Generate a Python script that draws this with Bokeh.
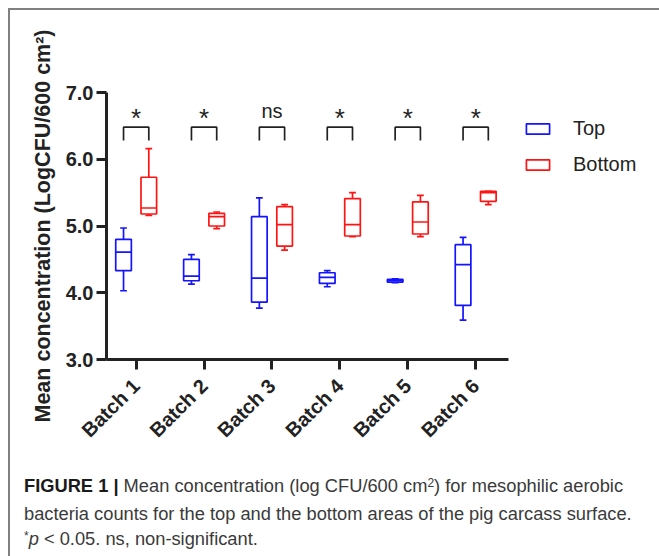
import numpy as np
from bokeh.plotting import figure
from bokeh.models import Range1d, FixedTicker, Legend, LegendItem, ColumnDataSource, Div
from bokeh.layouts import column
from bokeh.core.properties import value
from bokeh.embed import file_html
from bokeh.resources import INLINE

# ---- data ----
batches = ["Batch 1", "Batch 2", "Batch 3", "Batch 4", "Batch 5", "Batch 6"]
positions = [1, 2, 3, 4, 5, 6]

top_low = [4.03, 4.13, 3.77, 4.09, 4.15, 3.59]
top_q1 = [4.33, 4.18, 3.86, 4.14, 4.16, 3.81]
top_med = [4.61, 4.25, 4.22, 4.23, 4.18, 4.42]
top_q3 = [4.80, 4.50, 5.14, 4.30, 4.20, 4.72]
top_high = [4.97, 4.57, 5.42, 4.33, 4.21, 4.83]

bot_low = [5.16, 4.96, 4.64, 4.84, 4.84, 5.32]
bot_q1 = [5.18, 5.00, 4.70, 4.85, 4.88, 5.37]
bot_med = [5.27, 5.14, 5.02, 5.02, 5.06, 5.50]
bot_q3 = [5.73, 5.19, 5.29, 5.41, 5.36, 5.52]
bot_high = [6.16, 5.21, 5.32, 5.50, 5.46, 5.52]

significance = ["*", "*", "ns", "*", "*", "*"]

y_ticks = [3, 4, 5, 6, 7]
y_tick_labels = ["3.0", "4.0", "5.0", "6.0", "7.0"]

# ---- styling constants ----
OFFSET = 0.186
BOX_W = 0.23
CAP_W = 0.10
BR_LOW, BR_HIGH = 6.28, 6.48
AX = "#222222"
FONT = "Liberation Sans"
X_AXIS_BOUNDS = (0.563, 6.483)

# frame extends to the right so the legend can sit beside the axis
p = figure(frame_width=553, frame_height=267,
           x_range=Range1d(0.563, 8.707), y_range=Range1d(3.0, 7.0),
           output_backend="svg", toolbar_location=None,
           min_border_left=96, min_border_right=0,
           min_border_top=82, min_border_bottom=109)
p.grid.visible = False
p.outline_line_color = None
p.background_fill_color = "white"
p.border_fill_color = "white"


def draw_boxes(shift, low, q1, med, q3, high, color):
    xs = np.array(positions, dtype=float) + shift
    src = ColumnDataSource(dict(x=xs, low=low, q1=q1, med=med, q3=q3, high=high,
                                xl=xs - BOX_W / 2, xr=xs + BOX_W / 2,
                                cl=xs - CAP_W / 2, cr=xs + CAP_W / 2))
    lw = 1.7
    p.segment(x0="x", y0="q3", x1="x", y1="high", source=src, line_color=color, line_width=lw)
    p.segment(x0="x", y0="q1", x1="x", y1="low", source=src, line_color=color, line_width=lw)
    p.segment(x0="cl", y0="high", x1="cr", y1="high", source=src, line_color=color, line_width=lw)
    p.segment(x0="cl", y0="low", x1="cr", y1="low", source=src, line_color=color, line_width=lw)
    r = p.vbar(x="x", bottom="q1", top="q3", width=BOX_W, source=src,
               fill_color="white", line_color=color, line_width=lw)
    p.segment(x0="xl", y0="med", x1="xr", y1="med", source=src, line_color=color, line_width=lw)
    return r


r_top = draw_boxes(-OFFSET, top_low, top_q1, top_med, top_q3, top_high, "#1414ff")
r_bot = draw_boxes(OFFSET, bot_low, bot_q1, bot_med, bot_q3, bot_high, "#ff1414")

# significance brackets
bxs = [[x - OFFSET, x - OFFSET, x + OFFSET, x + OFFSET] for x in positions]
bys = [[BR_LOW, BR_HIGH, BR_HIGH, BR_LOW] for _ in positions]
p.multi_line(xs=bxs, ys=bys, line_color=AX, line_width=1.7)

star_x = [x for x, s in zip(positions, significance) if s == "*"]
ns_x = [x for x, s in zip(positions, significance) if s != "*"]
ns_t = [s for s in significance if s != "*"]
p.text(x=star_x, y=[6.62] * len(star_x), text=["*"] * len(star_x),
       text_font=value(FONT), text_font_size="26px", text_align="center",
       text_baseline="alphabetic", text_color=AX)
p.text(x=ns_x, y=[6.73] * len(ns_x), text=ns_t,
       text_font=value(FONT), text_font_size="20px", text_align="center",
       text_baseline="alphabetic", text_color=AX)

# axes
for ax in (p.xaxis, p.yaxis):
    ax.axis_line_width = 3
    ax.axis_line_color = AX
    ax.major_tick_line_width = 3
    ax.major_tick_line_color = AX
    ax.major_tick_out = 10
    ax.major_tick_in = 0
    ax.minor_tick_line_color = None
    ax.major_label_text_font = FONT
    ax.major_label_text_font_style = "bold"
    ax.major_label_text_color = AX

p.xaxis.bounds = X_AXIS_BOUNDS
p.xaxis.ticker = FixedTicker(ticks=positions)
p.xaxis.major_label_overrides = {x: b for x, b in zip(positions, batches)}
p.xaxis.major_label_orientation = np.pi / 4
p.xaxis.major_label_text_font_size = "20px"
p.xaxis.major_label_standoff = 13

p.yaxis.ticker = FixedTicker(ticks=y_ticks)
p.yaxis.major_label_overrides = {t: l for t, l in zip(y_ticks, y_tick_labels)}
p.yaxis.major_label_text_font_size = "20px"
p.yaxis.major_label_standoff = 3
p.yaxis.axis_label = "Mean concentration (LogCFU/600 cm²)"
p.yaxis.axis_label_text_font = FONT
p.yaxis.axis_label_text_font_style = "bold"
p.yaxis.axis_label_text_font_size = "21.5px"
p.yaxis.axis_label_text_color = AX
p.yaxis.axis_label_standoff = 8

legend = Legend(items=[LegendItem(label="Top", renderers=[r_top]),
                       LegendItem(label="Bottom", renderers=[r_bot])],
                location=(417, 180), margin=0, padding=5, spacing=6,
                glyph_width=29, glyph_height=13, label_standoff=21,
                label_height=30, label_text_font=FONT, label_text_font_size="20px",
                label_text_color=AX, border_line_color=None,
                background_fill_alpha=0)
p.add_layout(legend, "center")

caption_html = (
    '<div style="font-family:\'Liberation Sans\',Arial,sans-serif;font-size:18.3px;'
    'line-height:25px;color:#3a3a3a;padding:5px 0 0 14px;white-space:nowrap">'
    '<b style="color:#1a1a1a">FIGURE 1 |</b> Mean concentration (log CFU/600 cm'
    '<span style="position:relative;top:-0.45em;font-size:12px">2</span>) '
    'for mesophilic aerobic<br>'
    'bacteria counts for the top and the bottom areas of the pig carcass surface.<br>'
    '<span style="position:relative;top:-0.4em;font-size:12px">*</span><i>p</i> &lt; 0.05. ns, non-significant.'
    '</div>'
)
caption = Div(text=caption_html, width=649, height=88, margin=(0, 0, 0, 0))

layout = column(p, caption, spacing=0, margin=(8, 0, 0, 8),
                styles={"border-top": "2px solid #808080",
                        "border-left": "2px solid #808080"})

open("out.html", "w").write(file_html(layout, INLINE))
